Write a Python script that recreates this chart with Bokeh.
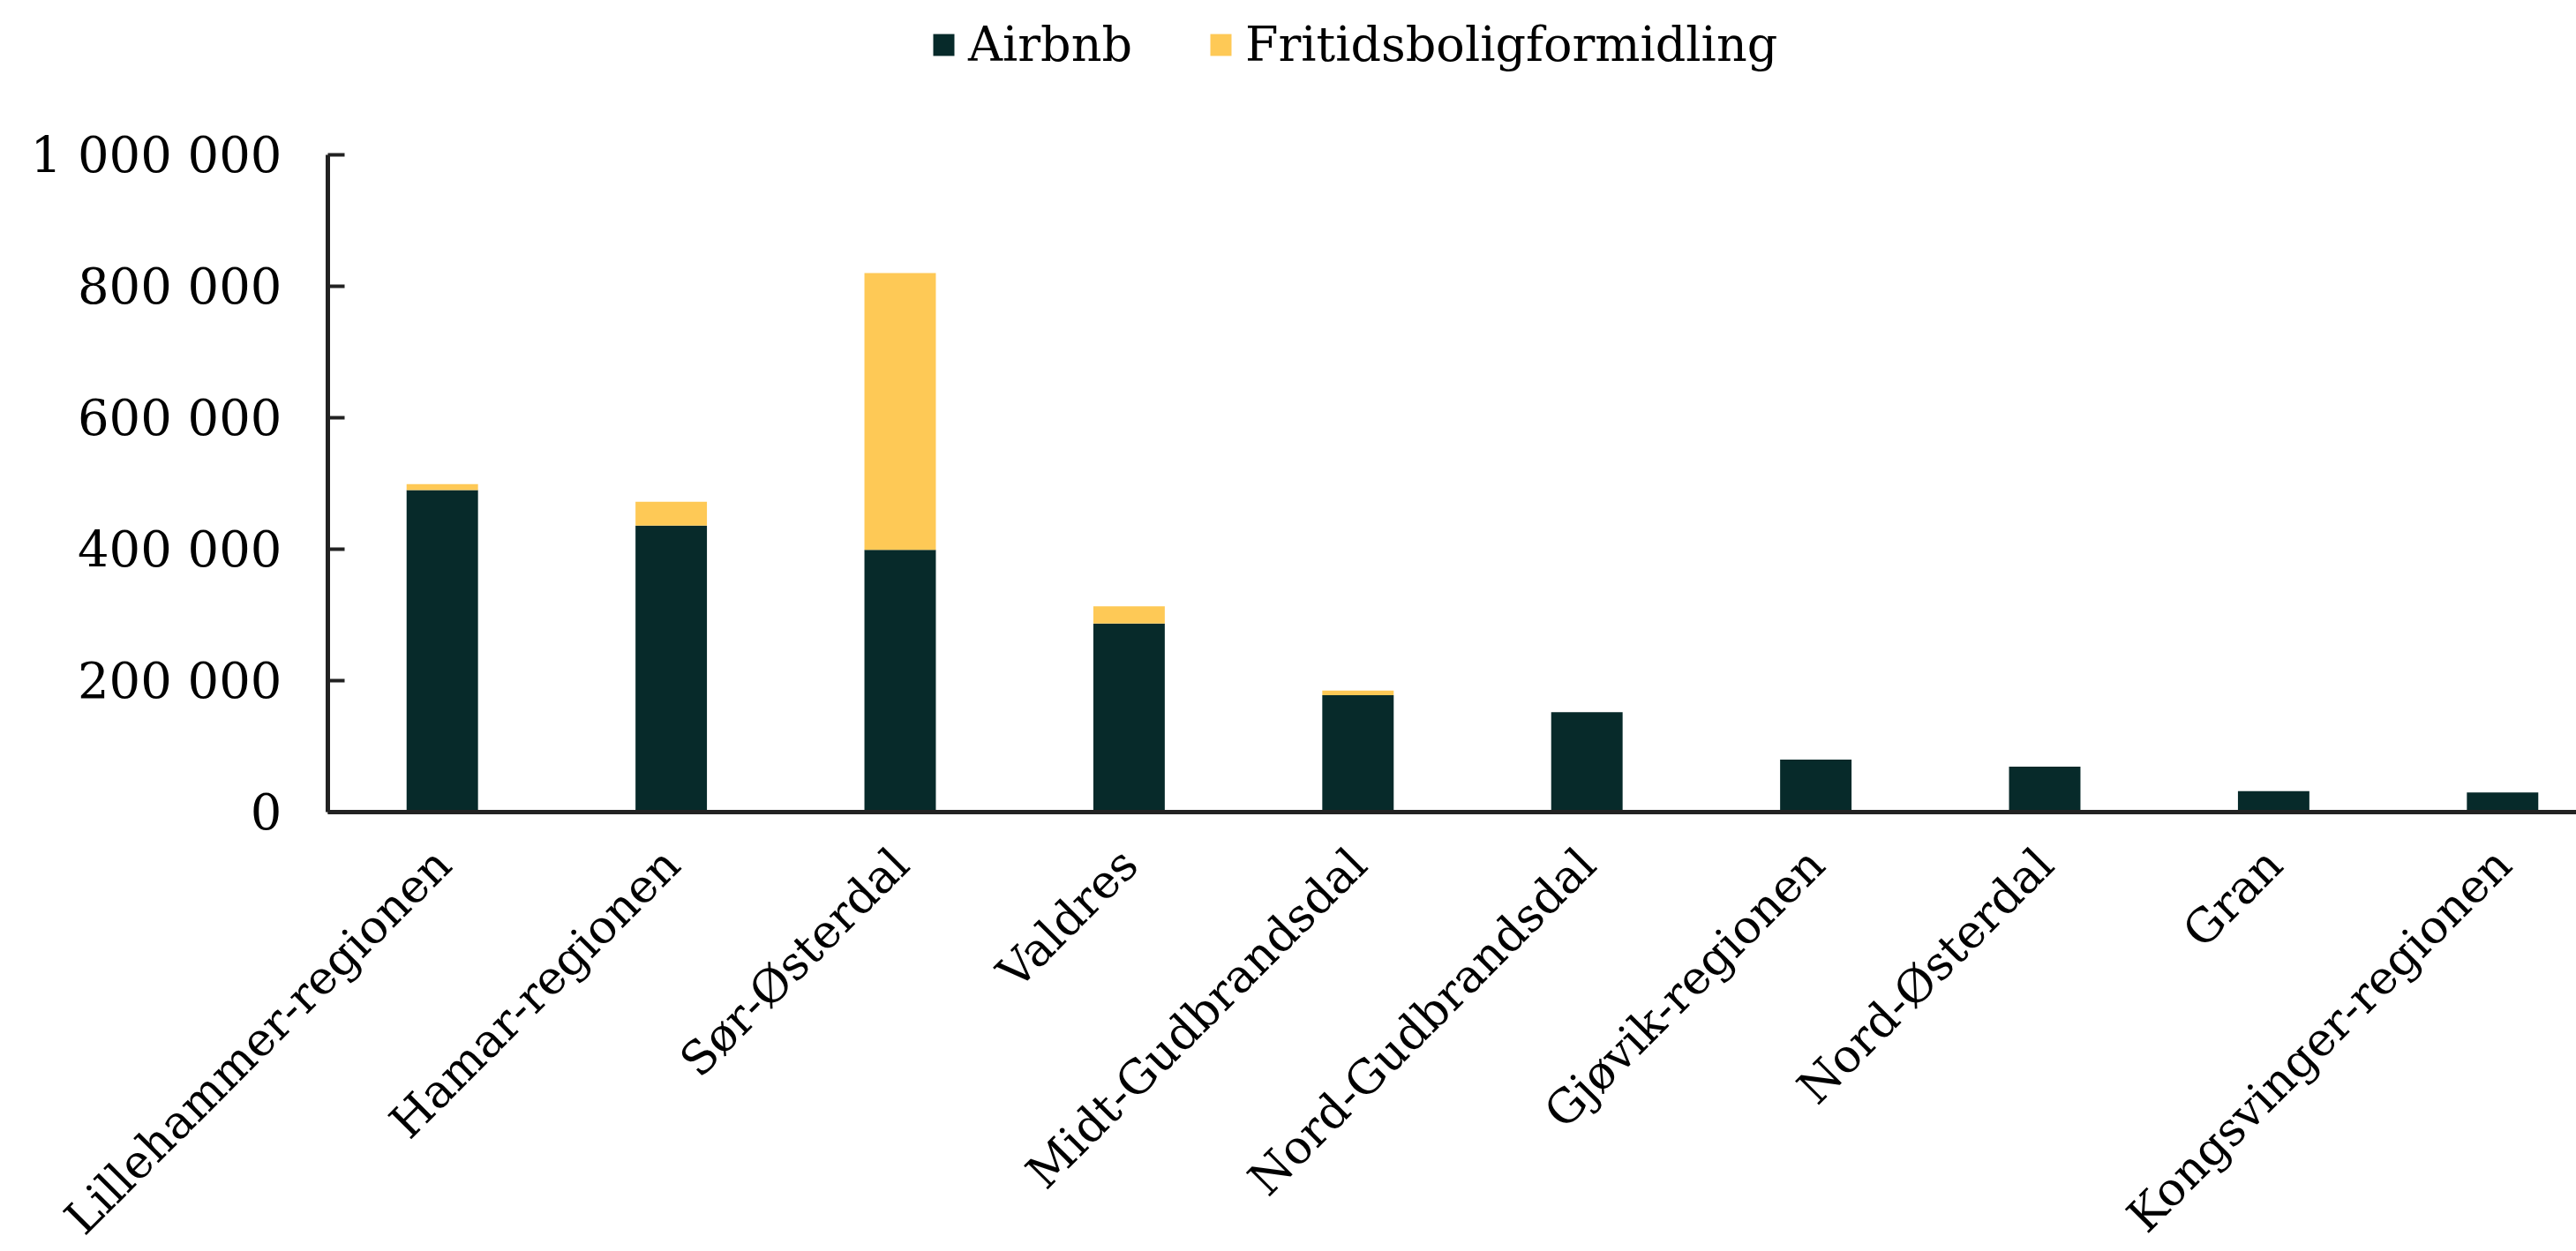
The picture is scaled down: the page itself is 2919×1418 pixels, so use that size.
from bokeh.plotting import figure
from bokeh.models import ColumnDataSource, FixedTicker, Range1d, Legend, LegendItem
from bokeh.embed import file_html
from bokeh.resources import INLINE

# ---- data ----
regions = ["Lillehammer-regionen", "Hamar-regionen", "Sør-Østerdal", "Valdres",
           "Midt-Gudbrandsdal", "Nord-Gudbrandsdal", "Gjøvik-regionen",
           "Nord-Østerdal", "Gran", "Kongsvinger-regionen"]
airbnb = [490000, 436000, 399000, 287000, 178000, 152000, 80000, 69000, 32000, 30000]
fritids = [9000, 36000, 421000, 26000, 7000, 0, 0, 0, 0, 0]
series_names = ["Airbnb", "Fritidsboligformidling"]
y_ticks = [0, 200000, 400000, 600000, 800000, 1000000]
y_tick_labels = ["0", "200 000", "400 000", "600 000", "800 000", "1 000 000"]

# ---- layout / styling ----
FONT = "DejaVu Serif"
DARK = "#072a2a"
YELLOW = "#fec956"
W, H = 2919, 1418
LEFT = 371            # pixel column of the y axis
CAT_PX = 259.4        # pixels per category
ZERO_Y = 920          # pixel row of value 0 (from top)
TOP_Y = 175           # pixel row of value 1 000 000
YMAX = 1000000
px_per_unit = (ZERO_Y - TOP_Y) / YMAX
y_start = -(H - ZERO_Y) / px_per_unit
y_end = YMAX + TOP_Y / px_per_unit
x0 = -0.5
x_start = x0 - LEFT / CAT_PX
x_end = x0 + (W - LEFT) / CAT_PX

idx = list(range(len(regions)))
src = ColumnDataSource(dict(x=idx, airbnb=airbnb, fritids=fritids))

p = figure(width=W, height=H, output_backend="svg", toolbar_location=None,
           x_range=Range1d(x_start, x_end), y_range=Range1d(y_start, y_end),
           min_border_left=0, min_border_right=0, min_border_top=0,
           min_border_bottom=0)
p.outline_line_color = None
p.xgrid.visible = False
p.ygrid.visible = False
p.background_fill_color = None

rs = p.vbar_stack(["airbnb", "fritids"], x="x", width=0.312, source=src,
                  color=[DARK, YELLOW], line_color=None)

AX_COLOR = "#222222"
# y axis, fixed at the left edge of the first category
p.yaxis.fixed_location = x0
p.yaxis.bounds = (0, YMAX)
p.yaxis.ticker = FixedTicker(ticks=y_ticks)
p.yaxis.major_label_overrides = {t: l for t, l in zip(y_ticks, y_tick_labels)}
p.yaxis.major_tick_in = 19
p.yaxis.major_tick_out = 0
p.yaxis.minor_tick_line_color = None
p.yaxis.axis_line_width = 5
p.yaxis.major_tick_line_width = 4
p.yaxis.axis_line_color = AX_COLOR
p.yaxis.major_tick_line_color = AX_COLOR
p.yaxis.major_label_standoff = 52
p.yaxis.major_label_text_font = FONT
p.yaxis.major_label_text_font_size = "56px"
p.yaxis.major_label_text_color = "#000000"

# x axis, fixed at value 0
p.xaxis.fixed_location = 0
p.xaxis.bounds = (x0, x_end)
p.xaxis.ticker = FixedTicker(ticks=idx)
p.xaxis.major_label_overrides = {i: r for i, r in zip(idx, regions)}
p.xaxis.major_tick_in = 0
p.xaxis.major_tick_out = 0
p.xaxis.minor_tick_line_color = None
p.xaxis.axis_line_width = 5
p.xaxis.axis_line_color = AX_COLOR
p.xaxis.major_label_orientation = 0.785398
p.xaxis.major_label_standoff = 50
p.xaxis.major_label_text_font = FONT
p.xaxis.major_label_text_font_size = "52.5px"
p.xaxis.major_label_text_color = "#000000"

legend = Legend(items=[LegendItem(label=series_names[0], renderers=[rs[0]]),
                       LegendItem(label=series_names[1], renderers=[rs[1]])],
                orientation="horizontal", location=(1054, H - 82),
                label_text_font=FONT, label_text_font_size="54px",
                label_text_color="#000000",
                glyph_width=30, glyph_height=31, label_standoff=13, spacing=85,
                padding=0, margin=0, border_line_color=None,
                background_fill_alpha=0)
p.add_layout(legend, "center")

open("out.html", "w").write(file_html(p, INLINE))
